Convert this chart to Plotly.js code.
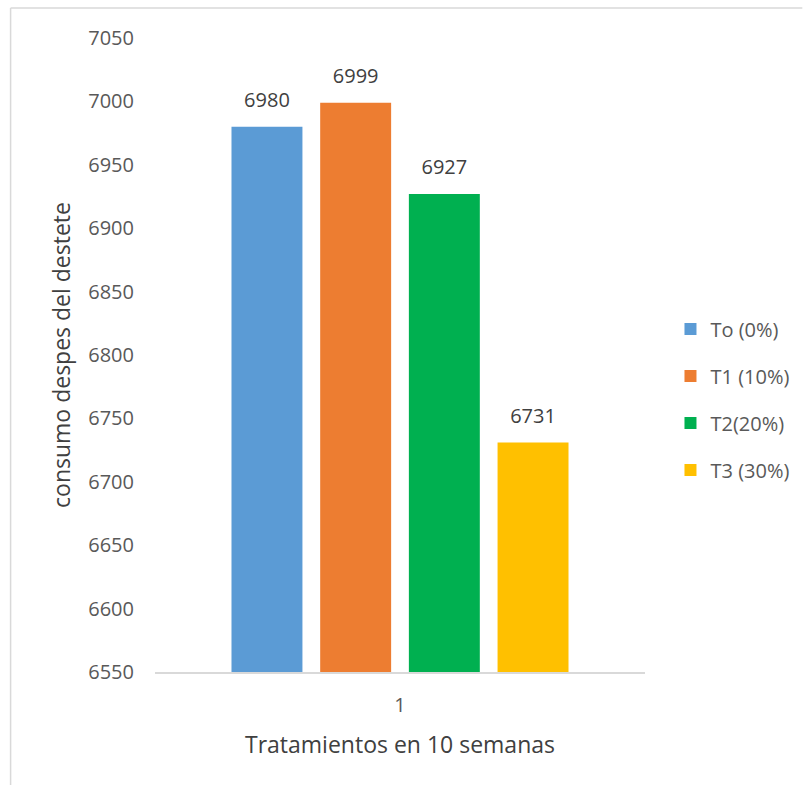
<!DOCTYPE html>
<html>
<head>
<meta charset="utf-8">
<script src="https://cdn.plot.ly/plotly-3.0.1.min.js"></script>
<style>html,body{margin:0;padding:0;background:#fff;}#chart{width:806px;height:785px;}</style>
</head>
<body>
<div id="chart"></div>
<script>
const categories = ["1"];
const seriesNames = ["To (0%)", "T1 (10%)", "T2(20%)", "T3 (30%)"];
const seriesValues = [[6980], [6999], [6927], [6731]];
const seriesColors = ["#5b9bd5", "#ed7d31", "#00b050", "#ffc000"];
const yTicks = [6550, 6600, 6650, 6700, 6750, 6800, 6850, 6900, 6950, 7000, 7050];

const FONT = "'Open Sans', 'Noto Sans', sans-serif";

const barTraces = seriesNames.map((name, i) => ({
  type: 'bar',
  name: name,
  x: categories,
  y: seriesValues[i],
  offsetgroup: 's' + i,
  marker: {color: seriesColors[i]},
  legendgroup: 'g' + i,
  hoverinfo: 'none'
}));

const labelTraces = seriesNames.map((name, i) => ({
  type: 'scatter',
  mode: 'markers+text',
  name: name,
  x: categories,
  y: seriesValues[i],
  offsetgroup: 's' + i,
  marker: {size: 22, opacity: 0, color: seriesColors[i]},
  text: seriesValues[i].map(String),
  textposition: 'top center',
  textfont: {family: FONT, size: 20, color: '#404040'},
  cliponaxis: false,
  showlegend: false,
  hoverinfo: 'none'
}));

const layout = {
  width: 806, height: 785,
  margin: {l: 155, r: 159, t: 38, b: 113},
  paper_bgcolor: '#ffffff', plot_bgcolor: '#ffffff',
  barmode: 'group',
  bargap: 0.276,
  bargroupgap: 0.2,
  scattermode: 'group',
  scattergap: 0.276,
  showlegend: true,
  legend: {
    x: 1.052, xanchor: 'left', y: 0.43, yanchor: 'middle',
    font: {family: FONT, size: 20, color: '#595959'},
    tracegroupgap: 18,
    bgcolor: 'rgba(0,0,0,0)'
  },
  xaxis: {
    type: 'category',
    showgrid: false, zeroline: false,
    showline: true, linecolor: '#d9d9d9', linewidth: 1.5,
    ticks: '', ticklabelstandoff: 14,
    tickfont: {family: FONT, size: 20, color: '#595959'},
    title: {text: 'Tratamientos en 10 semanas', font: {family: FONT, size: 23, color: '#404040'}, standoff: 20},
    fixedrange: true
  },
  yaxis: {
    range: [6550, 7050],
    tickvals: yTicks,
    ticktext: yTicks.map(String),
    showgrid: false, zeroline: false, showline: false,
    ticks: '', ticklabelstandoff: 20,
    tickfont: {family: FONT, size: 20, color: '#595959'},
    title: {text: 'consumo despes del destete', font: {family: FONT, size: 23, color: '#404040'}, standoff: 11},
    fixedrange: true
  },
  shapes: [
    {type: 'line', xref: 'paper', yref: 'paper', x0: -0.2947, x1: 1.3211, y0: 1.0473, y1: 1.0473, line: {color: '#d9d9d9', width: 1.5}},
    {type: 'line', xref: 'paper', yref: 'paper', x0: -0.2947, x1: -0.2947, y0: 1.0473, y1: -0.1782, line: {color: '#d9d9d9', width: 1.5}}
  ]
};

Plotly.newPlot('chart', barTraces.concat(labelTraces), layout, {displayModeBar: false, staticPlot: true});
</script>
</body>
</html>
